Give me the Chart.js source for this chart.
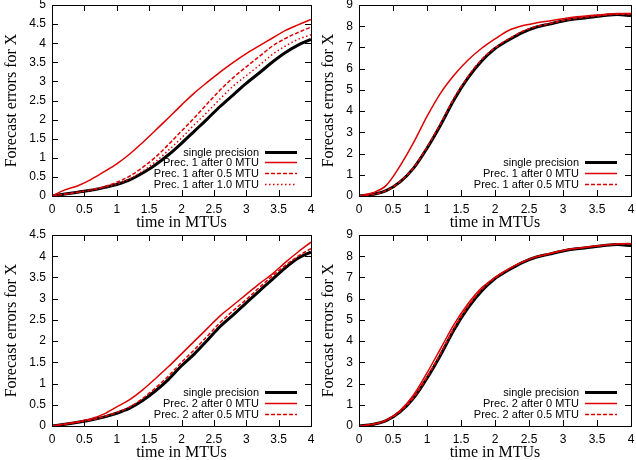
<!DOCTYPE html>
<html lang="en">
<head>
    <meta charset="UTF-8">
    <title>Forecast errors for X</title>
    <script src="https://cdn.jsdelivr.net/npm/chart.js"></script>
    <style>
        body { margin: 0; background: #fff; }
        canvas { position: absolute; }
    </style>
</head>
<body>
    <canvas id="p1" width="318" height="230" style="left:0;top:0"></canvas>
    <canvas id="p2" width="318" height="230" style="left:318px;top:0"></canvas>
    <canvas id="p3" width="318" height="240" style="left:0;top:220px"></canvas>
    <canvas id="p4" width="318" height="240" style="left:318px;top:220px"></canvas>
    <script>
        // time in MTUs, same for every panel
        var times = [0, 0.2, 0.4, 0.6, 0.8, 1.0, 1.2, 1.4, 1.6, 1.8, 2.0, 2.2, 2.4, 2.6, 2.8, 3.0, 3.2, 3.4, 3.6, 3.8, 4.0];
        var xTicks = [0, 0.5, 1, 1.5, 2, 2.5, 3, 3.5, 4];

        // top left panel
        var p1Single = [0, 0.05, 0.1, 0.15, 0.22, 0.3, 0.42, 0.6, 0.82, 1.08, 1.38, 1.7, 2.02, 2.35, 2.65, 2.95, 3.22, 3.5, 3.75, 3.95, 4.1];
        var p1After0 = [0, 0.16, 0.27, 0.43, 0.63, 0.84, 1.1, 1.4, 1.72, 2.05, 2.38, 2.7, 2.98, 3.25, 3.5, 3.73, 3.93, 4.13, 4.33, 4.48, 4.62];
        var p1After05 = [0, 0.05, 0.1, 0.16, 0.24, 0.36, 0.52, 0.75, 1.02, 1.35, 1.7, 2.05, 2.42, 2.78, 3.1, 3.38, 3.65, 3.92, 4.12, 4.28, 4.42];
        var p1After10 = [0, 0.05, 0.1, 0.15, 0.22, 0.31, 0.45, 0.65, 0.9, 1.2, 1.52, 1.87, 2.2, 2.55, 2.88, 3.15, 3.42, 3.7, 3.92, 4.1, 4.22];

        // top right panel
        var p2Single = [0, 0.07, 0.25, 0.65, 1.3, 2.25, 3.35, 4.55, 5.55, 6.35, 6.95, 7.35, 7.7, 7.95, 8.1, 8.25, 8.35, 8.42, 8.5, 8.55, 8.5];
        var p2After0 = [0, 0.15, 0.5, 1.4, 2.5, 3.75, 4.85, 5.7, 6.4, 6.95, 7.4, 7.8, 8.02, 8.15, 8.25, 8.35, 8.45, 8.5, 8.55, 8.6, 8.6];
        var p2After05 = [0, 0.07, 0.25, 0.67, 1.32, 2.3, 3.42, 4.62, 5.62, 6.42, 6.98, 7.4, 7.75, 7.98, 8.12, 8.27, 8.37, 8.45, 8.52, 8.57, 8.55];

        // bottom left panel
        var p3Single = [0, 0.04, 0.09, 0.14, 0.21, 0.3, 0.42, 0.6, 0.83, 1.1, 1.42, 1.7, 2.02, 2.35, 2.62, 2.9, 3.18, 3.45, 3.72, 3.95, 4.1];
        var p3After0 = [0, 0.05, 0.1, 0.17, 0.28, 0.45, 0.62, 0.85, 1.12, 1.4, 1.7, 2.0, 2.3, 2.6, 2.85, 3.1, 3.35, 3.58, 3.85, 4.1, 4.33];
        var p3After05 = [0, 0.04, 0.09, 0.14, 0.22, 0.32, 0.45, 0.65, 0.9, 1.18, 1.5, 1.8, 2.12, 2.44, 2.72, 2.98, 3.26, 3.53, 3.78, 4.0, 4.18];

        // bottom right panel
        var p4Single = [0, 0.07, 0.25, 0.65, 1.3, 2.25, 3.35, 4.55, 5.55, 6.35, 6.95, 7.35, 7.7, 7.95, 8.1, 8.25, 8.35, 8.42, 8.5, 8.55, 8.5];
        var p4After0 = [0, 0.08, 0.28, 0.72, 1.45, 2.5, 3.65, 4.8, 5.75, 6.5, 7.0, 7.4, 7.72, 7.97, 8.12, 8.27, 8.37, 8.45, 8.52, 8.58, 8.6];
        var p4After05 = [0, 0.07, 0.26, 0.67, 1.33, 2.3, 3.42, 4.62, 5.62, 6.42, 6.97, 7.38, 7.72, 7.97, 8.12, 8.27, 8.37, 8.45, 8.52, 8.57, 8.58];

        var RED = 'rgb(222,0,0)';
        var styles = {
            single: { borderColor: '#000', borderWidth: 3, borderDash: [], order: 1 },
            solid: { borderColor: RED, borderWidth: 1.5, borderDash: [], order: 0 },
            dashed: { borderColor: RED, borderWidth: 1.5, borderDash: [4, 2], order: 0 },
            dotted: { borderColor: RED, borderWidth: 1.5, borderDash: [1.5, 2.5], order: 0 }
        };

        Chart.defaults.color = '#000';
        Chart.defaults.font.family = '"Liberation Sans", Arial, sans-serif';

        function plainNumber(v) { return String(Math.round(v * 10) / 10); } // 1 not 1.0

        // gnuplot style: box round the plot, ticks pointing inwards on all four sides, legend bottom right
        var framePlugin = {
            id: 'frame',
            afterDatasetsDraw: function(chart) {
                var ctx = chart.ctx, a = chart.chartArea;
                var xs = chart.scales.x, ys = chart.scales.y;
                ctx.save();
                ctx.strokeStyle = '#000';
                ctx.lineWidth = 1;
                ctx.beginPath();
                xs.ticks.forEach(function(t) {
                    var px = Math.round(xs.getPixelForValue(t.value)) + 0.5;
                    ctx.moveTo(px, a.bottom); ctx.lineTo(px, a.bottom - 6);
                    ctx.moveTo(px, a.top); ctx.lineTo(px, a.top + 6);
                });
                ys.ticks.forEach(function(t) {
                    var py = Math.round(ys.getPixelForValue(t.value)) + 0.5;
                    ctx.moveTo(a.left, py); ctx.lineTo(a.left + 6, py);
                    ctx.moveTo(a.right, py); ctx.lineTo(a.right - 6, py);
                });
                ctx.stroke();
                ctx.strokeRect(Math.round(a.left) + 0.5, Math.round(a.top) + 0.5,
                    Math.round(a.right - a.left), Math.round(a.bottom - a.top));

                // legend
                var sets = chart.data.datasets;
                ctx.font = '11px "Liberation Sans", Arial, sans-serif';
                ctx.textAlign = 'right';
                ctx.textBaseline = 'middle';
                ctx.fillStyle = '#000';
                sets.forEach(function(ds, i) {
                    var y = Math.round(a.bottom - 12 - (sets.length - 1 - i) * 10.8) + 0.5;
                    ctx.fillText(ds.label, a.right - 52, y);
                    ctx.beginPath();
                    ctx.strokeStyle = ds.borderColor;
                    ctx.lineWidth = ds.borderWidth;
                    ctx.setLineDash(ds.borderDash || []);
                    ctx.moveTo(a.right - 46, y);
                    ctx.lineTo(a.right - 14, y);
                    ctx.stroke();
                });
                ctx.restore();
            }
        };

        function makePanel(id, yMax, yStep, yWidth, padTop, padRight, titlePad, series) {
            var datasets = series.map(function(s) {
                var st = styles[s.style];
                return {
                    label: s.label,
                    data: times.map(function(t, i) { return { x: t, y: s.values[i] }; }),
                    borderColor: st.borderColor,
                    borderWidth: st.borderWidth,
                    borderDash: st.borderDash,
                    order: st.order,
                    pointRadius: 0,
                    fill: false,
                    cubicInterpolationMode: 'monotone'
                };
            });
            return new Chart(document.getElementById(id), {
                type: 'line',
                data: { datasets: datasets },
                options: {
                    responsive: false,
                    animation: false,
                    devicePixelRatio: 1,
                    layout: { padding: { top: padTop, right: padRight, left: 0, bottom: 0 } },
                    plugins: { legend: { display: false }, tooltip: { enabled: false } },
                    scales: {
                        x: {
                            type: 'linear', min: 0, max: 4,
                            afterBuildTicks: function(scale) {
                                scale.ticks = xTicks.map(function(v) { return { value: v }; });
                            },
                            afterFit: function(scale) {
                                scale.height = 34;
                                scale.paddingLeft = 0; scale.paddingRight = 0;
                            },
                            grid: { display: false, drawTicks: false },
                            border: { display: false },
                            ticks: { padding: 6, maxRotation: 0, autoSkip: false, font: { size: 12 }, callback: plainNumber },
                            title: {
                                display: true, text: 'time in MTUs',
                                font: { family: '"Liberation Serif", "Times New Roman", serif', size: 16, lineHeight: 1 },
                                padding: { top: 0, bottom: -1 }
                            }
                        },
                        y: {
                            type: 'linear', min: 0, max: yMax,
                            ticks: { stepSize: yStep, padding: 6, autoSkip: false, font: { size: 12 }, callback: plainNumber },
                            afterFit: function(scale) {
                                scale.width = yWidth;
                                scale.paddingTop = 0; scale.paddingBottom = 0;
                            },
                            grid: { display: false, drawTicks: false },
                            border: { display: false },
                            title: {
                                display: true, text: 'Forecast errors for X',
                                font: { family: '"Liberation Serif", "Times New Roman", serif', size: 16, lineHeight: 1 },
                                padding: { top: titlePad, bottom: 0 }
                            }
                        }
                    }
                },
                plugins: [framePlugin]
            });
        }

        makePanel('p1', 5, 0.5, 52, 5, 7, 4, [
            { label: 'single precision', values: p1Single, style: 'single' },
            { label: 'Prec. 1 after 0 MTU', values: p1After0, style: 'solid' },
            { label: 'Prec. 1 after 0.5 MTU', values: p1After05, style: 'dashed' },
            { label: 'Prec. 1 after 1.0 MTU', values: p1After10, style: 'dotted' }
        ]);
        makePanel('p2', 9, 1, 41, 5, 5, 3, [
            { label: 'single precision', values: p2Single, style: 'single' },
            { label: 'Prec. 1 after 0 MTU', values: p2After0, style: 'solid' },
            { label: 'Prec. 1 after 0.5 MTU', values: p2After05, style: 'dashed' }
        ]);
        makePanel('p3', 4.5, 0.5, 52, 15, 7, 4, [
            { label: 'single precision', values: p3Single, style: 'single' },
            { label: 'Prec. 2 after 0 MTU', values: p3After0, style: 'solid' },
            { label: 'Prec. 2 after 0.5 MTU', values: p3After05, style: 'dashed' }
        ]);
        makePanel('p4', 9, 1, 41, 15, 5, 3, [
            { label: 'single precision', values: p4Single, style: 'single' },
            { label: 'Prec. 2 after 0 MTU', values: p4After0, style: 'solid' },
            { label: 'Prec. 2 after 0.5 MTU', values: p4After05, style: 'dashed' }
        ]);
    </script>
</body>
</html>
